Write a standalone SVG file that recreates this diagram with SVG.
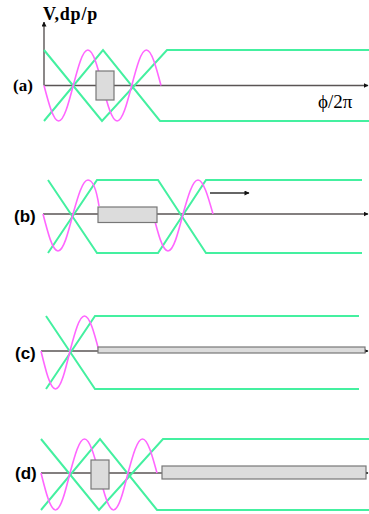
<svg xmlns="http://www.w3.org/2000/svg" width="369" height="514" viewBox="0 0 369 514">
<defs>
<marker id="ah" viewBox="0 0 10 10" refX="9" refY="5" markerWidth="5" markerHeight="5" orient="auto" markerUnits="userSpaceOnUse"><path d="M0,0 L10,5 L0,10 z" fill="#111"/></marker>
<marker id="ah2" viewBox="0 0 10 10" refX="9" refY="5" markerWidth="8" markerHeight="5" orient="auto" markerUnits="userSpaceOnUse"><path d="M0,0 L10,5 L0,10 z" fill="#111"/></marker>
</defs>
<style>
.ax{stroke:#5a5555;stroke-width:1.4;fill:none}
.gr{stroke:#44f0a0;stroke-width:2;fill:none}
.mg{stroke:#ff66ff;stroke-width:1.6;fill:none}
.bx{fill:#dcdcdc;stroke:#777;stroke-width:1.2}
.lb{font-family:"Liberation Sans",Arial,sans-serif;font-weight:bold;font-size:17px;fill:#000}
.ls{font-family:"Liberation Serif","Times New Roman",serif;fill:#000}
</style>
<g id="panel-a">
<line class="ax" x1="44" y1="85.5" x2="44" y2="22" marker-end="url(#ah)"/>
<line class="ax" x1="44" y1="85.5" x2="368" y2="85.5" marker-end="url(#ah)"/>
<polyline class="gr" points="44,50 102,121 167,50 369,50"/>
<polyline class="gr" points="44,121 103,50 160,121 369,121"/>
<path class="mg" d="M44,85.5 C48.77,103.69 53.33,121 58.63,121 C63.92,121 68.49,103.69 73.25,85.5 C78.02,67.31 82.58,50 87.88,50 C93.17,50 97.74,67.31 102.5,85.5 C107.27,103.69 111.83,121 117.13,121 C122.42,121 126.99,103.69 131.75,85.5 C136.52,67.31 141.08,50 146.38,50 C151.67,50 156.24,67.31 161,85.5"/>
<rect class="bx" x="96" y="71" width="18" height="29"/>
<text class="ls" x="43" y="20" font-size="18" font-weight="bold" letter-spacing="0.8">V,dp/p</text>
<text class="ls" x="13" y="91" font-size="17" font-weight="bold">(a)</text>
<text class="ls" x="318" y="108" font-size="19">ϕ/2π</text>
</g>
<g id="panel-b">
<line class="ax" x1="43" y1="214" x2="368" y2="214" marker-end="url(#ah)"/>
<polyline class="gr" points="48,180 97,253 158,253 206,180 362,180"/>
<polyline class="gr" points="48,253 97,180 158,180 206,253 362,253"/>
<path class="mg" d="M43,214 C47.89,232.96 52.57,251 58,251 C63.43,251 68.11,232.96 73,214 C77.89,196.58 82.57,180 88,180 C93.43,180 96.5,190 99,206"/>
<path class="mg" d="M153,214 C157.89,232.96 162.57,251 168,251 C173.43,251 178.11,232.96 183,214 C187.89,196.58 192.57,180 198,180 C203.43,180 208.11,196.58 213,214"/>
<rect class="bx" x="98" y="207" width="59" height="15.5"/>
<line x1="210" y1="193" x2="249" y2="193" stroke="#333" stroke-width="1.3" marker-end="url(#ah2)"/>
<text class="lb" x="14" y="222">(b)</text>
</g>
<g id="panel-c">
<line class="ax" x1="41" y1="351" x2="368" y2="351" marker-end="url(#ah)"/>
<polyline class="gr" points="46,316 95,389 359,389"/>
<polyline class="gr" points="46,389 95,316 359,316"/>
<path class="mg" d="M41,351 C45.73,370.47 50.25,389 55.5,389 C60.75,389 65.27,370.47 70,351 C74.73,333.07 79.25,316 84.5,316 C89.75,316 94.27,333.07 99,351"/>
<rect class="bx" x="98" y="347" width="267" height="6"/>
<text class="lb" x="15" y="359">(c)</text>
</g>
<g id="panel-d">
<line class="ax" x1="41" y1="473" x2="368" y2="473" marker-end="url(#ah)"/>
<polyline class="gr" points="41,439 99,510 163,439 369,439"/>
<polyline class="gr" points="41,510 100,439 157,510 369,510"/>
<path class="mg" d="M41,473 C45.73,491.96 50.25,510 55.5,510 C60.75,510 65.27,491.96 70,473 C74.73,455.58 79.25,439 84.5,439 C89.75,439 94.27,455.58 99,473 C103.73,491.96 108.25,510 113.5,510 C118.75,510 123.27,491.96 128,473 C132.73,455.58 137.25,439 142.5,439 C147.75,439 152.27,455.58 157,473"/>
<rect class="bx" x="91" y="460" width="18" height="29"/>
<rect class="bx" x="162" y="466" width="204" height="13"/>
<text class="lb" x="15" y="479">(d)</text>
</g>
</svg>
